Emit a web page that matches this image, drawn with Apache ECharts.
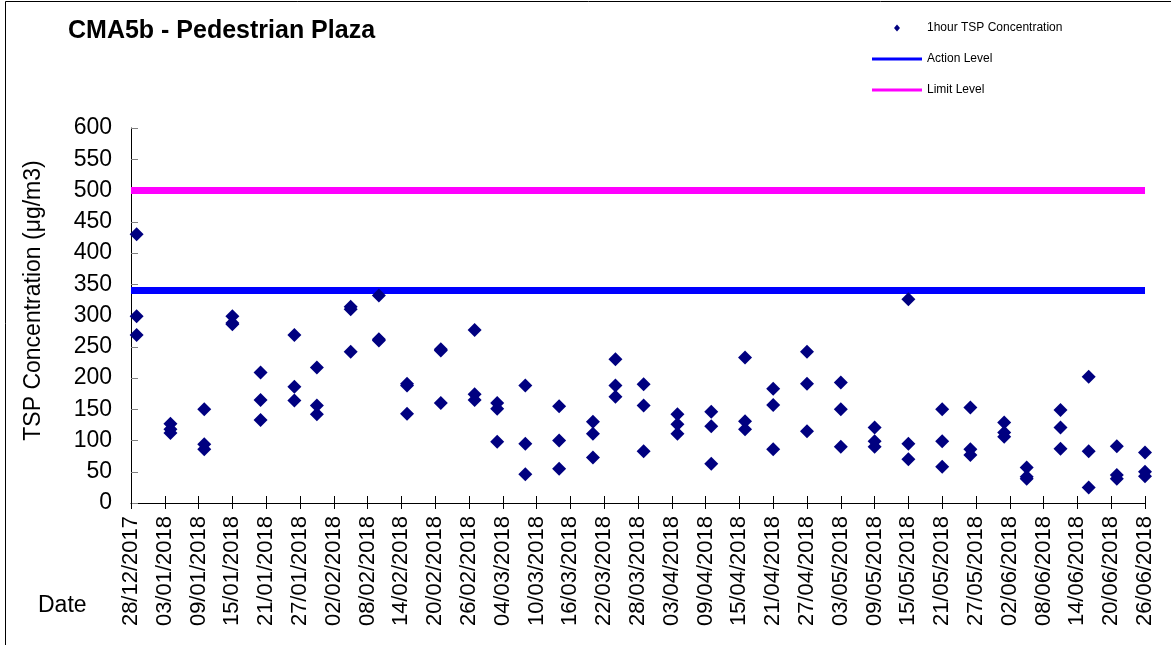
<!DOCTYPE html>
<html>
<head>
<meta charset="utf-8">
<script src="https://cdn.jsdelivr.net/npm/echarts@6/dist/echarts.min.js"></script>
<style>
    html, body { margin: 0; padding: 0; background: #fff; }
    #chart_tsp { width: 1171px; height: 645px; }
</style>
</head>
<body>
<div id="chart_tsp"></div>
<script>
// sampling dates, three 1-hour readings each
var sampleDates = ['29/12/2017', '04/01/2018', '10/01/2018', '15/01/2018', '20/01/2018', '26/01/2018',
    '30/01/2018', '05/02/2018', '10/02/2018', '15/02/2018', '21/02/2018', '27/02/2018', '03/03/2018',
    '08/03/2018', '14/03/2018', '20/03/2018', '24/03/2018', '29/03/2018', '04/04/2018', '10/04/2018',
    '16/04/2018', '21/04/2018', '27/04/2018', '03/05/2018', '09/05/2018', '15/05/2018', '21/05/2018',
    '26/05/2018', '01/06/2018', '05/06/2018', '11/06/2018', '16/06/2018', '21/06/2018', '26/06/2018'];
var readingA = [430, 127, 150, 299, 209, 269, 217, 314, 332, 191, 246, 277, 160, 188, 155, 130, 230,
    190, 142, 146, 233, 183, 242, 193, 121, 326, 150, 153, 129, 57, 149, 202, 91, 81];
var readingB = [299, 118, 94, 286, 165, 186, 156, 310, 262, 188, 244, 174, 151, 95, 100, 111, 188,
    156, 126, 123, 131, 157, 191, 150, 99, 95, 99, 86, 113, 42, 121, 83, 45, 50];
var readingC = [269, 112, 86, 288, 133, 164, 142, 242, 260, 143, 160, 165, 98, 46, 55, 73, 170,
    83, 111, 63, 118, 86, 115, 90, 90, 70, 58, 77, 106, 39, 87, 25, 39, 43];

var tickLabels = ['28/12/2017', '03/01/2018', '09/01/2018', '15/01/2018', '21/01/2018', '27/01/2018',
    '02/02/2018', '08/02/2018', '14/02/2018', '20/02/2018', '26/02/2018', '04/03/2018', '10/03/2018',
    '16/03/2018', '22/03/2018', '28/03/2018', '03/04/2018', '09/04/2018', '15/04/2018', '21/04/2018',
    '27/04/2018', '03/05/2018', '09/05/2018', '15/05/2018', '21/05/2018', '27/05/2018', '02/06/2018',
    '08/06/2018', '14/06/2018', '20/06/2018', '26/06/2018'];

var actionLevel = 340;
var limitLevel = 500;

// days counted from the first tick label
function dayNo(str) {
    var p = str.split('/'), s = tickLabels[0].split('/');
    return (Date.UTC(+p[2], p[1] - 1, +p[0]) - Date.UTC(+s[2], s[1] - 1, +s[0])) / 86400000;
}

var lastDay = dayNo(tickLabels[tickLabels.length - 1]);
var points = [];
function addReadings(arr) {
    for (var i = 0; i < sampleDates.length; i++) {
        points.push([dayNo(sampleDates[i]), arr[i]]);
    }
}
addReadings(readingA);
addReadings(readingB);
addReadings(readingC);

var font = '"Liberation Sans", Arial, sans-serif';
// legend icons: small diamond / thin bar centred in a 50x7 box
var diamondIcon = 'path://M0,0M50,7M22,3.5L25,0L28,3.5L25,7Z';
var barIcon = 'path://M0,0M50,7M0,2L50,2L50,5L0,5Z';

var myChart = echarts.init(document.getElementById('chart_tsp'));
var option = {
    backgroundColor: '#fff',
    animation: false,
    title: {
        text: 'CMA5b - Pedestrian Plaza',
        left: 68,
        top: 19,
        padding: 0,
        textStyle: { fontFamily: font, fontSize: 25, fontWeight: 'bold', color: '#000' }
    },
    legend: {
        orient: 'vertical',
        left: 872,
        top: 21,
        padding: 0,
        itemWidth: 50,
        itemHeight: 7,
        itemGap: 17,
        textStyle: { fontFamily: font, fontSize: 12, color: '#000', lineHeight: 14 },
        data: [
            { name: '1hour TSP Concentration', icon: diamondIcon, itemStyle: { borderWidth: 0 } },
            { name: 'Action Level', icon: barIcon, itemStyle: { borderWidth: 0 } },
            { name: 'Limit Level', icon: barIcon, itemStyle: { borderWidth: 0 } }
        ]
    },
    graphic: [
        {
            type: 'rect',
            shape: { x: 5.5, y: 1.5, width: 1300, height: 800 },
            style: { fill: 'none', stroke: '#000', lineWidth: 1 },
            silent: true
        },
        {
            type: 'text',
            left: 38,
            top: 594,
            style: { text: 'Date', fontFamily: font, fontSize: 23, fill: '#000' }
        }
    ],
    grid: {
        left: 131,
        right: 26,
        top: 128,
        bottom: 142
    },
    xAxis: [
        {
            type: 'value',
            min: 0,
            max: lastDay,
            interval: 6,
            splitLine: { show: false },
            axisLine: { lineStyle: { color: '#000', width: 1 } },
            axisTick: { length: 6, lineStyle: { color: '#000' } },
            axisLabel: {
                rotate: 90,
                margin: 13,
                fontFamily: font,
                fontSize: 22,
                color: '#000',
                formatter: function (v) {
                    return tickLabels[v / 6];
                }
            }
        },
        {
            type: 'value',
            position: 'bottom',
            min: 0,
            max: lastDay,
            interval: 6,
            splitLine: { show: false },
            axisLine: { show: false },
            axisTick: { inside: true, length: 7, lineStyle: { color: '#000' } },
            axisLabel: { show: false }
        }
    ],
    yAxis: {
        type: 'value',
        min: 0,
        max: 600,
        interval: 50,
        name: 'TSP Concentration (μg/m3)',
        nameLocation: 'middle',
        nameGap: 86,
        nameTextStyle: { fontFamily: font, fontSize: 23, color: '#000', padding: [0, 0, 0, 30] },
        splitLine: { show: false },
        axisLine: { show: true, lineStyle: { color: '#000', width: 1 } },
        axisTick: { show: true, inside: true, length: 7, lineStyle: { color: '#808080' } },
        axisLabel: { margin: 19, fontFamily: font, fontSize: 23, color: '#000' }
    },
    series: [
        {
            name: 'Action Level',
            type: 'line',
            symbol: 'none',
            data: [[0, actionLevel], [lastDay, actionLevel]],
            lineStyle: { color: '#0000ff', width: 7 },
            itemStyle: { color: '#0000ff' }
        },
        {
            name: 'Limit Level',
            type: 'line',
            symbol: 'none',
            data: [[0, limitLevel], [lastDay, limitLevel]],
            lineStyle: { color: '#ff00ff', width: 7 },
            itemStyle: { color: '#ff00ff' }
        },
        {
            name: '1hour TSP Concentration',
            type: 'scatter',
            symbol: 'diamond',
            symbolSize: 14,
            data: points,
            itemStyle: { color: '#000080', opacity: 1 },
            z: 5
        }
    ]
};
myChart.setOption(option);
</script>
</body>
</html>
